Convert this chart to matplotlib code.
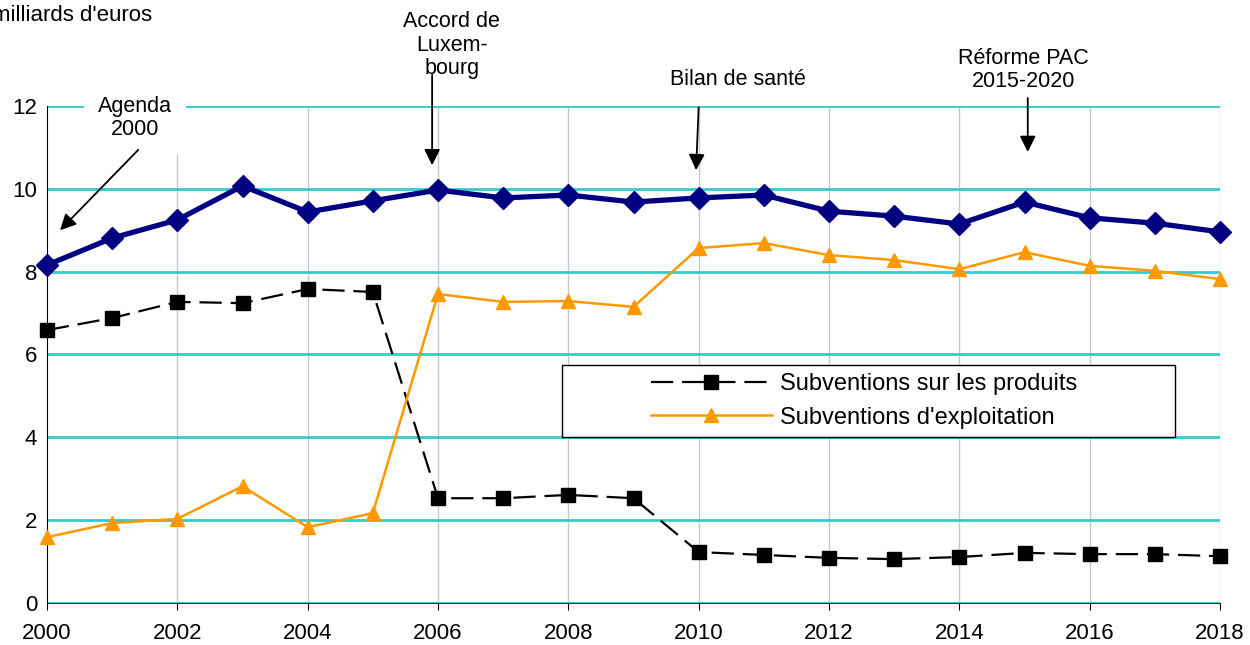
import matplotlib.pyplot as plt
from matplotlib.patches import Rectangle
import numpy as np

plt.rcParams['font.family'] = ['Liberation Sans', 'DejaVu Sans']

years = np.arange(2000, 2019)
total = [8.16, 8.81, 9.25, 10.07, 9.44, 9.71, 9.97, 9.78, 9.85, 9.68,
         9.78, 9.85, 9.46, 9.34, 9.15, 9.68, 9.30, 9.17, 8.96]
produits = [6.59, 6.88, 7.27, 7.24, 7.58, 7.51, 2.53, 2.53, 2.61, 2.53,
            1.23, 1.16, 1.09, 1.06, 1.11, 1.21, 1.18, 1.18, 1.13]
exploitation = [1.59, 1.93, 2.03, 2.82, 1.83, 2.17, 7.46, 7.27, 7.29, 7.15,
                8.57, 8.69, 8.40, 8.28, 8.06, 8.47, 8.14, 8.02, 7.82]

fig = plt.figure(figsize=(12.5, 6.45), dpi=100)
ax = fig.add_axes([0.0376, 0.0651, 0.9384, 0.7706])

# grid
for yv in range(0, 13, 2):
    ax.axhline(yv, color='#33CCCC', lw=2, zorder=1)
for xv in range(2002, 2019, 2):
    ax.axvline(xv, color='#C8C8C8', lw=1, zorder=0.5)

ax.plot(years, total, color='#000080', lw=3.8, marker='D', markersize=11,
        zorder=5, clip_on=False)
l1, = ax.plot(years, produits, color='black', lw=1.6, dashes=(10, 4), marker='s',
              markersize=10, zorder=4, clip_on=False)
l2, = ax.plot(years, exploitation, color='#FF9900', lw=1.8, marker='^',
              markersize=10, zorder=4, clip_on=False)

ax.set_xlim(2000, 2018)
ax.set_ylim(0, 12)
ax.set_xticks(range(2000, 2019, 2))
ax.set_yticks(range(0, 13, 2))
ax.tick_params(axis='x', labelsize=16, length=5, direction='out', pad=9.5)
ax.tick_params(axis='y', labelsize=16, length=0, pad=7)
for s in ['top', 'right']:
    ax.spines[s].set_visible(False)
ax.spines['left'].set_color('black')
ax.spines['bottom'].set_color('#1a4040')

# legend box + entries
ax.add_patch(Rectangle((0.439, 0.334), 0.5226, 0.145, transform=ax.transAxes,
                       facecolor='white', edgecolor='black', lw=1, zorder=6))
leg = ax.legend([l1, l2], ['Subventions sur les produits', "Subventions d'exploitation"],
                loc='center left', bbox_to_anchor=(0.515, 0.4065), fontsize=17,
                frameon=False, handlelength=5.1, handletextpad=0.35,
                borderpad=0, borderaxespad=0, labelspacing=0.48)
leg.set_zorder(7)

fig.text(-0.0064, 0.992, "milliards d'euros", fontsize=16, ha='left', va='top')

# annotations
arrow = dict(arrowstyle='-|>', color='black', lw=1.3, mutation_scale=24,
             shrinkA=0, shrinkB=0)
txt = dict(fontsize=15.5, ha='center', va='center', linespacing=1.15,
           annotation_clip=False, zorder=8)

ax.annotate('Agenda\n2000', xy=(2001.35, 11.71),
            bbox=dict(facecolor='white', edgecolor='none', pad=10), **txt)
ax.annotate('', xy=(2000.20, 9.0), xytext=(2001.40, 10.94), arrowprops=arrow,
            annotation_clip=False, zorder=8)

ax.annotate('Accord de\nLuxem-\nbourg', xy=(2006.21, 13.47), **txt)
ax.annotate('', xy=(2005.91, 10.57), xytext=(2005.91, 12.75), arrowprops=arrow,
            annotation_clip=False, zorder=8)

ax.annotate('Bilan de santé', xy=(2010.60, 12.63), **txt)
ax.annotate('', xy=(2009.96, 10.45), xytext=(2010.00, 11.97), arrowprops=arrow,
            annotation_clip=False, zorder=8)

ax.annotate('Réforme PAC\n2015-2020', xy=(2014.98, 12.87), **txt)
ax.annotate('', xy=(2015.05, 10.89), xytext=(2015.05, 12.19), arrowprops=arrow,
            annotation_clip=False, zorder=8)

fig.savefig('out.png', dpi=100)
